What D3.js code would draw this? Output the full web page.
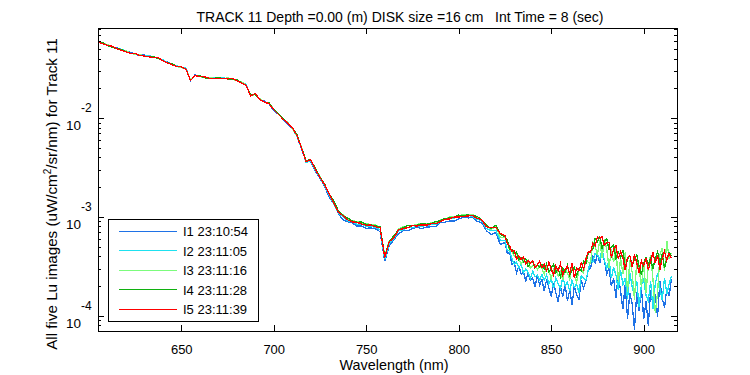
<!DOCTYPE html>
<html>
<head>
<meta charset="utf-8">
<script src="https://cdn.jsdelivr.net/npm/d3@7"></script>
<style>
body { margin: 0; background: #fff; }
svg text { font-family: "Liberation Sans", Arial, sans-serif; fill: #000; }
</style>
</head>
<body>
<svg id="chart" width="750" height="375"></svg>
<script>
// wavelength grid (nm), finer in the noisy near-infrared end
var wavelengths = [
    605,607.5,610,612.5,615,617.5,620,622.5,625,627.5,
    630,632.5,635,637.5,640,642.5,645,647.5,650,652.5,
    655,657.5,660,662.5,665,667.5,670,672.5,675,677.5,
    680,682.5,685,687.5,690,692.5,695,697.5,700,702.5,
    705,707.5,710,712.5,715,717.5,720,722.5,725,727.5,
    730,732.5,735,737.5,740,742.5,745,747.5,750,752.5,
    755,757.5,760,762.5,765,767.5,770,772.5,775,777.5,
    780,782.5,785,787.5,790,792.5,795,797.5,800,802.5,
    805,807.5,810,812.5,815,817.5,820,822.5,
    825,826.25,827.5,828.75,830,831.25,832.5,833.75,835,836.25,837.5,838.75,840,841.25,842.5,843.75,845,
    846.25,847.5,848.75,850,851.25,852.5,853.75,855,856.25,857.5,858.75,860,861.25,862.5,863.75,865,866.25,867.5,868.75,870,
    871.25,872.5,873.75,875,876.25,877.5,878.75,880,881.25,882.5,883.75,885,886.25,887.5,888.75,890,891.25,892.5,
    893.75,895,896.25,897.5,898.75,900,901.25,902.5,903.75,905,906.25,907.5,908.75,910,911.25,912.5,913.75,915
]

// common shape of the spectra, log10(Lu)
var baseLog = [
    -1.230,-1.247,-1.264,-1.281,-1.297,-1.313,-1.328,-1.343,-1.355,-1.364,
    -1.372,-1.380,-1.388,-1.397,-1.418,-1.440,-1.460,-1.477,-1.490,-1.502,
    -1.620,-1.570,-1.580,-1.592,-1.596,-1.598,-1.600,-1.601,-1.603,-1.605,
    -1.620,-1.642,-1.665,-1.774,-1.760,-1.815,-1.838,-1.855,-1.915,-1.962,
    -2.010,-2.050,-2.105,-2.175,-2.300,-2.440,-2.430,-2.520,-2.600,-2.675,
    -2.780,-2.860,-2.950,-3.000,-3.030,-3.052,-3.064,-3.072,-3.085,-3.092,
    -3.100,-3.120,-3.410,-3.260,-3.210,-3.140,-3.120,-3.108,-3.098,-3.094,
    -3.090,-3.084,-3.080,-3.068,-3.050,-3.034,-3.022,-3.012,-3.002,-2.995,
    -2.990,-2.998,-3.015,-3.040,-3.100,-3.130,-3.115,-3.200,
    -3.220,-3.280,-3.330,-3.370,-3.400,-3.425,-3.445,-3.460,-3.475,-3.488,-3.500,-3.510,-3.520,-3.528,-3.535,-3.540,-3.545,
    -3.550,-3.555,-3.560,-3.565,-3.570,-3.575,-3.580,-3.585,-3.588,-3.590,-3.591,-3.592,-3.591,-3.590,-3.588,-3.585,-3.565,-3.540,-3.510,-3.480,
    -3.420,-3.360,-3.330,-3.300,-3.290,-3.300,-3.320,-3.340,-3.370,-3.400,-3.420,-3.440,-3.455,-3.470,-3.485,-3.500,-3.510,-3.520,
    -3.530,-3.540,-3.545,-3.550,-3.553,-3.555,-3.553,-3.550,-3.540,-3.530,-3.520,-3.510,-3.505,-3.500,-3.500,-3.500,-3.502,-3.505
]

// per image deviation from the common shape (hundredths of a decade)
var offI1 = [
    1,0,1,0,1,1,0,1,0,0,1,0,1,0,0,1,0,1,0,0,
    0,1,0,0,1,0,0,1,0,0,1,0,1,0,0,0,1,0,-1,0,
    0,-1,0,-1,-1,0,-1,-2,-1,-2,-2,-1,-2,-3,-2,-1,-3,-2,-3,-2,
    -2,-3,-4,-3,-2,-3,-2,-3,-2,-1,-3,-2,-2,-3,-1,-2,-2,-3,-2,-1,
    -2,-1,-3,-2,-4,-5,-4,-8,
    -4,-9,-3,-11,-6,-14,-5,-12,-8,-16,-7,-13,-10,-18,-6,-15,-9,
    -20,-8,-16,-24,-10,-19,-28,-12,-22,-9,-26,-15,-30,-11,-20,-25,-8,-18,-14,-6,
    -10,-4,-14,-8,-18,-6,-12,-24,-15,-30,-20,-38,-12,-28,-45,-18,-52,-25,
    -35,-60,-22,-40,-16,-48,-30,-55,-20,-36,-26,-50,-14,-32,-42,-22,-30,-12
]
var offI2 = [
    1,1,0,1,0,1,1,0,1,0,0,1,1,0,1,0,0,1,0,1,
    0,0,1,0,0,1,0,1,0,1,0,0,1,0,1,0,0,1,0,0,
    1,0,0,-1,0,-1,0,-1,0,-1,0,-1,-1,0,-1,0,-1,0,-1,0,
    -1,-1,-2,-1,-1,0,-1,0,-1,0,-1,0,0,-1,0,1,0,0,1,0,
    1,0,-1,0,-2,-1,-2,-4,
    -2,-6,-1,-5,-8,-3,-7,-2,-9,-4,-6,-11,-3,-8,-5,-10,-4,
    -9,-3,-12,-6,-15,-4,-10,-14,-2,-11,-7,-16,-5,-12,-9,-18,-3,-8,-13,-6,
    -2,-10,-4,-8,-14,-3,-12,-18,-6,-22,-9,-15,-28,-7,-20,-12,-32,-5,
    -18,-25,-10,-36,-14,-8,-24,-30,-11,-40,-16,-6,-22,-34,-12,-28,-18,-9
]
var offI3 = [
    0,0,1,0,0,0,1,0,0,1,0,0,0,1,0,0,1,0,0,0,
    1,0,0,0,1,0,0,0,1,0,0,1,0,0,0,1,0,0,1,0,
    0,1,0,0,1,1,0,1,1,0,1,1,1,2,1,1,2,1,2,1,
    2,1,2,2,1,2,2,2,1,2,2,1,2,1,2,1,2,1,1,2,
    1,2,1,1,2,0,2,-1,
    1,4,-1,3,0,5,2,-2,4,1,6,-1,3,5,0,4,2,
    -3,5,1,-6,4,7,-2,3,-5,6,2,-4,8,0,-7,5,3,-3,9,2,
    -5,10,3,-8,6,-12,9,2,-15,7,-4,12,-20,5,-9,14,-25,8,
    -3,-30,11,4,-16,9,-22,6,15,-10,-45,-26,12,18,-5,26,8,14
]
var offI4 = [
    0,1,0,0,0,1,0,0,1,0,0,0,1,0,0,0,1,0,1,0,
    0,0,1,0,0,0,1,0,0,0,1,0,0,1,0,0,0,1,0,1,
    1,0,1,1,0,1,1,1,0,1,1,2,1,1,2,1,1,2,1,1,
    1,2,1,1,2,1,1,2,1,1,2,1,1,2,1,2,1,1,2,1,
    1,1,2,1,2,1,3,2,
    2,5,0,4,3,7,1,5,2,6,0,4,7,1,5,3,6,
    2,8,0,5,9,1,6,-2,7,3,10,0,5,8,-1,6,2,9,4,11,
    8,3,11,5,9,-2,7,12,4,9,14,2,10,6,15,-1,8,13,
    3,11,16,5,-3,9,14,7,12,0,10,16,4,13,-2,8,14,11
]
var offI5 = [
    0,0,0,1,0,0,0,0,1,0,0,0,0,1,0,0,0,0,1,0,
    0,0,0,1,0,0,0,0,0,1,0,0,0,0,1,0,0,0,0,0,
    0,0,1,0,0,0,1,0,0,0,1,0,0,1,0,0,1,0,0,1,
    0,1,0,1,0,1,0,0,1,0,1,0,1,0,0,1,0,1,0,0,
    0,1,0,1,0,2,1,3,
    3,1,4,2,6,0,5,3,7,1,6,4,8,2,5,9,3,
    7,1,10,4,-2,8,3,11,0,6,9,2,12,-3,7,4,10,1,8,13,
    6,9,4,10,7,10,3,8,11,-1,9,15,3,12,7,-4,10,13,
    2,16,8,-2,11,6,14,1,9,17,5,12,-3,8,15,6,13,9
]

var seriesNames = ['I1 23:10:54', 'I2 23:11:05', 'I3 23:11:16', 'I4 23:11:28', 'I5 23:11:39']
var seriesOffsets = [offI1, offI2, offI3, offI4, offI5]
var seriesColors = ['#1f72e6', '#1ee1f0', '#7cfc7c', '#10b010', '#ff0000']
var xTicks = [650, 700, 750, 800, 850, 900]
var yMajor = [-2, -3, -4]

var svg = d3.select('#chart')
var margin = {top: 28, right: 73, bottom: 44, left: 98}
var W = 750, H = 375
var x0 = margin.left, x1 = W - margin.right
var y0 = margin.top, y1 = H - margin.bottom

var xScale = d3.scaleLinear().domain([605, 918]).range([x0, x1])
var yScale = d3.scaleLog().domain([Math.pow(10, -4.155), Math.pow(10, -1.088)]).range([y1, y0])

svg.append('rect').attr('width', W).attr('height', H).style('fill', '#fff')

// build the series from the common shape + deviations
var series = seriesOffsets.map(function(off) {
    return wavelengths.map(function(w, i) {
        return {w: w, v: Math.pow(10, baseLog[i] + off[i] / 100)}
    })
})

svg.append('clipPath').attr('id', 'clip')
    .append('rect').attr('x', x0).attr('y', y0).attr('width', x1 - x0).attr('height', y1 - y0)

var line = d3.line()
    .x(function(d) { return xScale(d.w) })
    .y(function(d) { return yScale(d.v) })

var g = svg.append('g').attr('clip-path', 'url(#clip)')
series.forEach(function(s, k) {
    g.append('path')
        .datum(s)
        .attr('d', line)
        .attr('shape-rendering', 'crispEdges')
        .style('fill', 'none')
        .style('stroke', seriesColors[k])
        .style('stroke-width', 1.3)
})

// minor log ticks
var minorTicks = []
for (var e = -5; e <= -2; e++) {
    for (var m = 2; m <= 9; m++) {
        var v = m * Math.pow(10, e)
        if (v > yScale.domain()[0] && v < yScale.domain()[1]) minorTicks.push(v)
    }
}
var majorTicks = yMajor.map(function(p) { return Math.pow(10, p) })

// axes, ticks pointing inward like matlab
svg.append('g').attr('transform', 'translate(0,' + y1 + ')')
    .call(d3.axisBottom(xScale).tickValues(xTicks).tickSize(-6).tickPadding(14).tickFormat(d3.format('d')))
svg.append('g').attr('transform', 'translate(0,' + y0 + ')')
    .call(d3.axisTop(xScale).tickValues(xTicks).tickSize(-6).tickFormat(''))
svg.append('g').attr('transform', 'translate(' + x0 + ',0)')
    .call(d3.axisLeft(yScale).tickValues(majorTicks).tickSize(-6).tickFormat(''))
svg.append('g').attr('transform', 'translate(' + x0 + ',0)')
    .call(d3.axisLeft(yScale).tickValues(minorTicks).tickSize(-3).tickFormat(''))
svg.append('g').attr('transform', 'translate(' + x1 + ',0)')
    .call(d3.axisRight(yScale).tickValues(majorTicks).tickSize(-6).tickFormat(''))
svg.append('g').attr('transform', 'translate(' + x1 + ',0)')
    .call(d3.axisRight(yScale).tickValues(minorTicks).tickSize(-3).tickFormat(''))

svg.selectAll('.domain').remove()
svg.selectAll('.tick line').style('stroke', '#000').attr('shape-rendering', 'crispEdges')
svg.selectAll('.tick text').style('font-size', '13px').style('font-family', '"Liberation Sans", Arial, sans-serif')

// y tick labels: 10 with superscript exponent
yMajor.forEach(function(p) {
    var ty = yScale(Math.pow(10, p))
    svg.append('text').attr('x', 66).attr('y', ty + 12).style('font-size', '13.5px').text('10')
    svg.append('text').attr('x', 81).attr('y', ty - 6).style('font-size', '12px').text('-' + Math.abs(p))
})

// frame
svg.append('rect')
    .attr('x', x0).attr('y', y0).attr('width', x1 - x0).attr('height', y1 - y0)
    .style('fill', 'none').style('stroke', '#000').style('stroke-width', 1)
    .attr('shape-rendering', 'crispEdges')

// title and labels
svg.append('text').attr('x', 400).attr('y', 22).style('text-anchor', 'middle').style('font-size', '14px')
    .style('white-space', 'pre')
    .text('TRACK 11 Depth =0.00 (m) DISK size =16 cm   Int Time = 8 (sec)')

svg.append('text').attr('x', 394).attr('y', 370).style('text-anchor', 'middle').style('font-size', '14.4px')
    .text('Wavelength (nm)')

var yl = svg.append('text').attr('transform', 'translate(57,194) rotate(-90)')
    .style('text-anchor', 'middle').style('font-size', '15.2px')
yl.append('tspan').text('All five Lu images (uW/cm')
yl.append('tspan').attr('dy', -6).style('font-size', '10px').text('2')
yl.append('tspan').attr('dy', 6).text('/sr/nm) for Track 11')

// legend
var lg = svg.append('g')
lg.append('rect').attr('x', 108).attr('y', 219).attr('width', 150).attr('height', 102)
    .style('fill', '#fff').style('stroke', '#000').attr('shape-rendering', 'crispEdges')
seriesNames.forEach(function(name, k) {
    var ly = 231 + k * 19.5
    lg.append('line').attr('x1', 119).attr('x2', 177).attr('y1', ly).attr('y2', ly)
        .style('stroke', seriesColors[k]).style('stroke-width', 1).attr('shape-rendering', 'crispEdges')
    lg.append('text').attr('x', 183).attr('y', ly + 5).style('font-size', '13px').text(name)
})
</script>
</body>
</html>
